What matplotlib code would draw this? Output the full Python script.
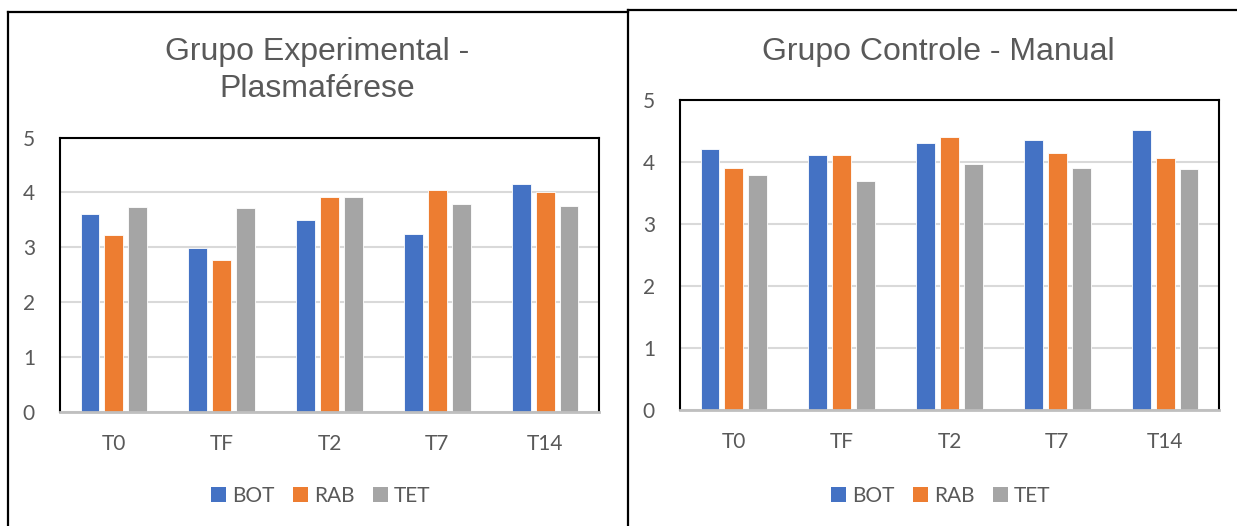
import matplotlib
matplotlib.use('Agg')
import matplotlib.pyplot as plt
from matplotlib.lines import Line2D
from matplotlib.patches import Patch
import numpy as np

# --- Data ---
CATEGORIES = ["T0", "TF", "T2", "T7", "T14"]
SERIES = ["BOT", "RAB", "TET"]
COLORS = ["#4472C4", "#ED7D31", "#A5A5A5"]

exp_bot = [3.61, 2.99, 3.50, 3.24, 4.16]
exp_rab = [3.23, 2.76, 3.91, 4.04, 4.01]
exp_tet = [3.74, 3.71, 3.91, 3.78, 3.75]

ctl_bot = [4.21, 4.11, 4.30, 4.35, 4.51]
ctl_rab = [3.91, 4.11, 4.41, 4.14, 4.06]
ctl_tet = [3.79, 3.70, 3.96, 3.91, 3.89]

W, H = 1237, 526
TXT = "#595959"
TICK_FONT = ["Lato", "DejaVu Sans"]
TITLE_FONT = ["Liberation Sans", "DejaVu Sans"]


def fx(px):
    return px / W


def fy(py):
    return 1 - py / H


def draw_panel(fig, rect_px, values, title_lines, title_x, title_y, legend_x):
    left, top, right, bottom = rect_px
    ax = fig.add_axes([fx(left), fy(bottom), fx(right - left), (bottom - top) / H])
    x = np.arange(len(CATEGORIES))
    step = 0.222
    for k, (vals, col) in enumerate(zip(values, COLORS)):
        ax.bar(x + (k - 1) * step, vals, width=0.175, color=col,
               edgecolor="white", linewidth=0.6, zorder=3)
    ax.set_xlim(-0.5, len(CATEGORIES) - 0.5)
    ax.set_ylim(0, 5)
    ax.set_yticks(range(6))
    ax.set_xticks(x)
    ax.set_xticklabels(CATEGORIES)
    ax.yaxis.grid(True, color="#D9D9D9", linewidth=1.5, zorder=0)
    ax.tick_params(length=0, labelsize=15, labelcolor=TXT)
    ax.tick_params(axis='y', pad=18)
    ax.tick_params(axis='x', pad=16)
    for lab in ax.get_xticklabels() + ax.get_yticklabels():
        lab.set_family(TICK_FONT)
    for side in ("top", "left", "right"):
        ax.spines[side].set_color("black")
        ax.spines[side].set_linewidth(1.5)
    ax.spines["bottom"].set_color("#BFBFBF")
    ax.spines["bottom"].set_linewidth(2)
    ax.spines["bottom"].set_zorder(4)

    for i, line in enumerate(title_lines):
        fig.text(fx(title_x), fy(title_y[i]), line, ha="center", va="center",
                 fontsize=23, color=TXT, family=TITLE_FONT)

    handles = [Patch(facecolor=c, edgecolor="none") for c in COLORS]
    leg = fig.legend(handles, SERIES, loc="center", ncol=3, frameon=False,
                     bbox_to_anchor=(fx(legend_x), fy(496)),
                     handlelength=0.7, handleheight=0.7, handletextpad=0.3,
                     columnspacing=0.9, prop={"family": TICK_FONT, "size": 15})
    for t in leg.get_texts():
        t.set_color(TXT)
    return ax


def main():
    fig = plt.figure(figsize=(W / 100, H / 100), dpi=100)

    draw_panel(fig, (60, 137.5, 599, 412), [exp_bot, exp_rab, exp_tet],
               ["Grupo Experimental -", "Plasmaférese"], 317, [52, 89], 321)
    draw_panel(fig, (680, 100, 1219, 410), [ctl_bot, ctl_rab, ctl_tet],
               ["Grupo Controle - Manual"], 938, [52], 941)

    # outer chart borders
    border = dict(color="black", linewidth=1.6, transform=fig.transFigure)
    fig.add_artist(Line2D([fx(8), fx(8)], [fy(H + 2), fy(12)], **border))
    fig.add_artist(Line2D([fx(8), fx(628)], [fy(12), fy(12)], **border))
    fig.add_artist(Line2D([fx(628), fx(628)], [fy(10), fy(H + 2)], **border))
    fig.add_artist(Line2D([fx(628), fx(W + 2)], [fy(10), fy(10)], **border))

    fig.savefig("out.png", dpi=100)
    plt.close(fig)


if __name__ == "__main__":
    main()
